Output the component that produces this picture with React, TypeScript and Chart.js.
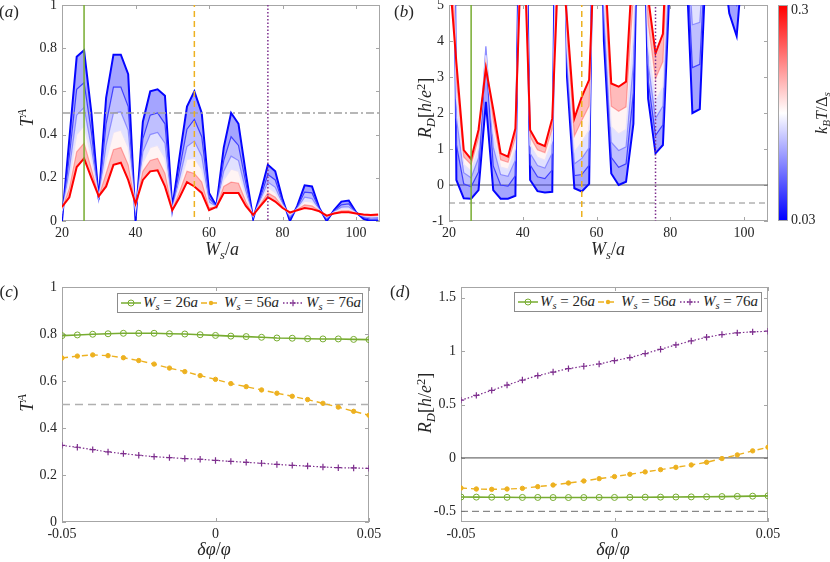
import { useEffect, useRef } from "react"
import { Chart, registerables } from "chart.js"

Chart.register(...registerables)

// ---------- panels (a) and (b): sweep over W_s/a, one row per k_B T / Delta_s ----------
const ws = [20, 22, 24, 26, 28, 30, 32, 34, 36, 38, 40, 42, 44, 46, 48, 50, 52, 54, 56, 58, 60, 62, 64, 66, 68, 70, 72, 74, 76, 78, 80, 82, 84, 86, 88, 90, 92, 94, 96, 98, 100, 102, 104, 106]
const temps = [0.03, 0.06, 0.1, 0.15, 0.21, 0.3]

// T^A
const tA_003 = [0, 0.38, 0.76, 0.79, 0.5, 0.1, 0.57, 0.77, 0.77, 0.68, 0, 0.46, 0.6, 0.61, 0.58, 0.06, 0.3, 0.53, 0.6, 0.5, 0.13, 0.07, 0.34, 0.5, 0.45, 0.22, 0.01, 0.13, 0.26, 0.23, 0.1, 0, 0.07, 0.165, 0.16, 0.06, 0, 0.05, 0.09, 0.095, 0.04, 0.01, 0, 0]
const tA_006 = [0.02, 0.3, 0.61, 0.64, 0.41, 0.105, 0.45, 0.62, 0.62, 0.53, 0.024, 0.38, 0.49, 0.5, 0.45, 0.057, 0.24, 0.425, 0.47, 0.39, 0.106, 0.069, 0.28, 0.39, 0.35, 0.175, 0.015, 0.11, 0.215, 0.19, 0.088, 0.012, 0.064, 0.134, 0.13, 0.056, 0.008, 0.046, 0.075, 0.079, 0.039, 0.016, 0.008, 0.009]
const tA_010 = [0.034, 0.24, 0.49, 0.525, 0.34, 0.108, 0.35, 0.5, 0.505, 0.42, 0.042, 0.32, 0.4, 0.41, 0.36, 0.055, 0.2, 0.345, 0.37, 0.3, 0.088, 0.067, 0.23, 0.3, 0.28, 0.14, 0.02, 0.1, 0.18, 0.156, 0.079, 0.021, 0.059, 0.11, 0.104, 0.052, 0.013, 0.042, 0.064, 0.066, 0.037, 0.021, 0.015, 0.016]
const tA_015 = [0.046, 0.19, 0.4, 0.44, 0.29, 0.11, 0.28, 0.41, 0.42, 0.34, 0.056, 0.27, 0.34, 0.35, 0.29, 0.053, 0.17, 0.285, 0.29, 0.24, 0.074, 0.067, 0.19, 0.24, 0.23, 0.115, 0.023, 0.088, 0.155, 0.132, 0.072, 0.028, 0.056, 0.092, 0.087, 0.05, 0.018, 0.04, 0.055, 0.057, 0.037, 0.024, 0.02, 0.021]
const tA_021 = [0.056, 0.15, 0.32, 0.36, 0.24, 0.113, 0.22, 0.33, 0.34, 0.26, 0.069, 0.23, 0.28, 0.29, 0.22, 0.051, 0.137, 0.23, 0.22, 0.18, 0.061, 0.066, 0.16, 0.18, 0.175, 0.09, 0.025, 0.078, 0.13, 0.11, 0.066, 0.034, 0.053, 0.075, 0.07, 0.047, 0.022, 0.037, 0.047, 0.048, 0.036, 0.027, 0.024, 0.026]
const tA_030 = [0.065, 0.11, 0.25, 0.29, 0.2, 0.115, 0.16, 0.26, 0.27, 0.19, 0.08, 0.19, 0.23, 0.235, 0.16, 0.05, 0.11, 0.18, 0.16, 0.13, 0.05, 0.065, 0.13, 0.13, 0.13, 0.07, 0.028, 0.07, 0.11, 0.09, 0.06, 0.04, 0.05, 0.06, 0.055, 0.045, 0.025, 0.035, 0.04, 0.04, 0.035, 0.03, 0.028, 0.03]

// R_D in h/e^2 (values above 5 run off the top of the plot)
const rD_003 = [30, 0.14, -0.37, -0.38, -0.14, 2.31, -0.14, -0.38, -0.38, -0.3, 15, 0.14, -0.17, -0.21, -0.19, 20, 3, -0.09, -0.18, 0.03, 15, 4, 0.32, 0, 0.09, 1.7, 12, 2.4, 0.88, 1.11, 6, 9, 7, 2, 2.11, 7, 9, 6.5, 4.77, 4.14, 6.6, 9, 9, 9]
const rD_006 = [20, 1.12, 0.03, -0.05, 0.36, 3.6, 0.53, 0, -0.03, 0.26, 12.8, 0.56, 0.23, 0.18, 0.42, 16, 3.29, 0.26, 0.29, 0.55, 13.7, 4.45, 0.77, 0.49, 0.59, 2.56, 11.5, 2.9, 1.38, 1.67, 6.5, 9, 7.4, 3.26, 3.35, 7.4, 9, 6.95, 5.53, 5.01, 7.03, 9, 9, 9]
const rD_010 = [17, 1.87, 0.34, 0.2, 0.75, 3.85, 1.05, 0.29, 0.24, 0.69, 11.2, 0.88, 0.54, 0.47, 0.89, 13, 3.56, 0.59, 0.74, 1.04, 12.5, 4.87, 1.19, 0.96, 1.06, 3.38, 11, 3.38, 1.85, 2.19, 7, 9, 7.7, 4.45, 4.52, 7.7, 9, 7.4, 6.25, 5.84, 7.44, 9, 9, 9]
const rD_015 = [13, 2.42, 0.57, 0.39, 1.03, 3.6, 1.43, 0.5, 0.44, 1.01, 10, 1.11, 0.77, 0.69, 1.24, 11, 3.83, 0.92, 1.19, 1.53, 11.4, 5.3, 1.62, 1.42, 1.54, 4.2, 10.4, 3.86, 2.33, 2.72, 7.5, 9, 8, 5.64, 5.69, 8, 9, 7.8, 6.97, 6.67, 7.85, 9, 9, 9]
const rD_021 = [9, 2.94, 0.78, 0.57, 1.3, 3.4, 1.79, 0.7, 0.63, 1.31, 8.8, 1.34, 0.98, 0.9, 1.56, 9, 4.2, 1.36, 1.79, 2.2, 9.8, 5.87, 2.19, 2.05, 2.17, 5.3, 9.8, 4.5, 2.96, 3.43, 8.2, 9, 8.5, 7.25, 7.28, 8.5, 9, 8.4, 7.94, 7.78, 8.4, 9, 9, 9]
const rD_030 = [6, 3.4, 0.97, 0.72, 1.53, 3.24, 2.1, 0.88, 0.79, 1.57, 7.8, 1.53, 1.17, 1.08, 1.85, 7, 4.6, 1.85, 2.45, 2.92, 8, 6.5, 2.82, 2.73, 2.87, 6.5, 9, 5.2, 3.66, 4.2, 9, 9, 9, 9, 9, 9, 9, 9, 9, 9, 9, 9, 9, 9]

// widths picked out in (a)/(b) and swept in (c)/(d)
const cuts = [26, 56, 76]

// ---------- panels (c) and (d): sweep over delta phi / phi ----------
const dPhi = [-0.05, -0.045, -0.04, -0.035, -0.03, -0.025, -0.02, -0.015, -0.01, -0.005, 0, 0.005, 0.01, 0.015, 0.02, 0.025, 0.03, 0.035, 0.04, 0.045, 0.05]
const tA_26 = [0.793, 0.796, 0.799, 0.801, 0.803, 0.803, 0.803, 0.801, 0.8, 0.797, 0.794, 0.791, 0.789, 0.786, 0.783, 0.782, 0.78, 0.779, 0.779, 0.777, 0.776]
const tA_56 = [0.698, 0.706, 0.711, 0.708, 0.699, 0.687, 0.672, 0.655, 0.64, 0.623, 0.607, 0.589, 0.576, 0.562, 0.548, 0.535, 0.521, 0.505, 0.489, 0.471, 0.454]
const tA_76 = [0.326, 0.318, 0.308, 0.298, 0.291, 0.284, 0.278, 0.274, 0.27, 0.267, 0.262, 0.258, 0.254, 0.25, 0.245, 0.241, 0.238, 0.234, 0.231, 0.23, 0.228]
const rD_26 = [-0.366, -0.367, -0.368, -0.369, -0.37, -0.37, -0.371, -0.371, -0.371, -0.37, -0.37, -0.369, -0.368, -0.367, -0.366, -0.365, -0.364, -0.362, -0.36, -0.358, -0.355]
const rD_56 = [-0.282, -0.291, -0.294, -0.291, -0.285, -0.269, -0.254, -0.235, -0.216, -0.194, -0.175, -0.153, -0.131, -0.11, -0.088, -0.066, -0.041, -0.006, 0.028, 0.066, 0.1]
const rD_76 = [0.541, 0.585, 0.632, 0.682, 0.729, 0.77, 0.804, 0.836, 0.858, 0.879, 0.911, 0.939, 0.977, 1.017, 1.058, 1.095, 1.13, 1.155, 1.171, 1.18, 1.186]

// ---------- ticks and reference levels ----------
const wsTicks = [20, 40, 60, 80, 100]
const tATicks = [0, 0.2, 0.4, 0.6, 0.8, 1]
const rDTicks = [-1, 0, 1, 2, 3, 4, 5]
const dPhiTicks = [-0.05, 0, 0.05]
const rDcTicks = [-0.5, 0, 0.5, 1, 1.5]
const tAHalf = 0.5
const rDLevels = [0, -0.5]

// ---------- styling ----------
const FONT = "'Liberation Serif', 'Times New Roman', 'DejaVu Serif', serif"
const INK = "#262626"
const FRAME = "#a6a6a6"
const cutColors = ["#77AC30", "#EDB120", "#7E2F8E"]
const cutDash = [[], [6, 4], [1.5, 2]]
const AXIS_W = 50
const AXIS_H = 40
const PAD_T = 20
const PAD_R = 24

type Box = { l: number; t: number; r: number; b: number }
const boxA: Box = { l: 62, t: 5, r: 380, b: 221 }
const boxB: Box = { l: 449, t: 5, r: 768, b: 221 }
const boxC: Box = { l: 62, t: 287, r: 369, b: 522 }
const boxD: Box = { l: 461, t: 287, r: 768, b: 522 }

function tempColor(T: number, alpha = 1) {
  const t = (T - temps[0]) / (temps[temps.length - 1] - temps[0])
  let r = 255, g = 255, b = 255
  if (t < 0.5) {
    r = g = Math.round(510 * t)
  } else {
    g = b = Math.round(510 * (1 - t))
  }
  return `rgba(${r},${g},${b},${alpha})`
}

const framePlugin = {
  id: "frame",
  beforeDatasetsDraw(chart: any) {
    const { ctx, chartArea: a } = chart
    const x = chart.scales.x
    const y = chart.scales.y
    ctx.save()
    ctx.strokeStyle = FRAME
    ctx.lineWidth = 1
    ctx.strokeRect(a.left + 0.5, a.top + 0.5, a.right - a.left - 1, a.bottom - a.top - 1)
    ctx.beginPath()
    for (const t of x.ticks) {
      const px = Math.round(x.getPixelForValue(t.value)) + 0.5
      ctx.moveTo(px, a.bottom)
      ctx.lineTo(px, a.bottom - 4)
      ctx.moveTo(px, a.top)
      ctx.lineTo(px, a.top + 4)
    }
    for (const t of y.ticks) {
      const py = Math.round(y.getPixelForValue(t.value)) + 0.5
      ctx.moveTo(a.left, py)
      ctx.lineTo(a.left + 4, py)
      ctx.moveTo(a.right, py)
      ctx.lineTo(a.right - 4, py)
    }
    ctx.stroke()
    ctx.restore()
  },
}

function axes(xr: number[], xt: number[], yr: number[], yt: number[]) {
  const tick = (padding: number) => ({
    color: INK,
    font: { family: FONT, size: 14 },
    padding,
    autoSkip: false,
    maxRotation: 0,
    callback: (v: number) => String(v),
  })
  return {
    x: {
      type: "linear",
      min: xr[0],
      max: xr[1],
      grid: { display: false, drawTicks: false },
      border: { display: false },
      ticks: tick(4),
      afterBuildTicks: (s: any) => { s.ticks = xt.map((value) => ({ value })) },
      afterFit: (s: any) => { s.height = AXIS_H },
    },
    y: {
      type: "linear",
      min: yr[0],
      max: yr[1],
      grid: { display: false, drawTicks: false },
      border: { display: false },
      ticks: tick(5),
      afterBuildTicks: (s: any) => { s.ticks = yt.map((value) => ({ value })) },
      afterFit: (s: any) => { s.width = AXIS_W },
    },
  }
}

function line(xs: number[], ys: number[], style: any) {
  return {
    data: xs.map((x, i) => ({ x, y: ys[i] })),
    pointRadius: 0,
    borderWidth: 1,
    fill: false,
    tension: 0,
    ...style,
  }
}

// fan of curves, blue (cold) under red (hot), bands between neighbours filled
function family(rows: number[][]) {
  return rows.map((vals, i) =>
    line(ws, vals, {
      borderColor: tempColor(temps[i]),
      borderWidth: i === 0 || i === rows.length - 1 ? 2 : 1.2,
      fill: i === 0 ? false : "-1",
      backgroundColor: i === 0 ? "transparent" : tempColor((temps[i - 1] + temps[i]) / 2, 0.4),
      order: 20 - i,
    })
  )
}

function cutLines(yr: number[]) {
  return cuts.map((c, i) =>
    line([c, c], [yr[0] - 1, yr[1] + 1], {
      borderColor: cutColors[i],
      borderWidth: 1.5,
      borderDash: cutDash[i],
      order: 0,
    })
  )
}

function options(xr: number[], xt: number[], yr: number[], yt: number[]) {
  return {
    responsive: false,
    animation: false,
    events: [],
    layout: { padding: { left: 0, top: PAD_T, right: PAD_R, bottom: 0 } },
    plugins: { legend: { display: false }, tooltip: { enabled: false } },
    scales: axes(xr, xt, yr, yt),
  }
}

const wsRange = [20, 106.5]

function makeA() {
  const yr = [0, 1]
  return {
    type: "line",
    data: {
      datasets: [
        ...family([tA_003, tA_006, tA_010, tA_015, tA_021, tA_030]),
        line(wsRange, [tAHalf, tAHalf], { borderColor: "#a0a0a0", borderWidth: 1.3, borderDash: [8, 3, 2, 3], order: 1 }),
        ...cutLines(yr),
      ],
    },
    options: options(wsRange, wsTicks, yr, tATicks),
    plugins: [framePlugin],
  }
}

function makeB() {
  const yr = [-1, 5]
  return {
    type: "line",
    data: {
      datasets: [
        ...family([rD_003, rD_006, rD_010, rD_015, rD_021, rD_030]),
        line(wsRange, [rDLevels[0], rDLevels[0]], { borderColor: "#606060", borderWidth: 1, order: 30 }),
        line(wsRange, [rDLevels[1], rDLevels[1]], { borderColor: "#8a8a8a", borderWidth: 1, borderDash: [6, 4], order: 30 }),
        ...cutLines(yr),
      ],
    },
    options: options(wsRange, wsTicks, yr, rDTicks),
    plugins: [framePlugin],
  }
}

function sweep(rows: number[][]) {
  return [
    line(dPhi, rows[0], {
      borderColor: cutColors[0], borderWidth: 1.6,
      pointRadius: 3, pointStyle: "circle", pointBorderColor: cutColors[0], pointBackgroundColor: "rgba(255,255,255,0)", pointBorderWidth: 1,
    }),
    line(dPhi, rows[1], {
      borderColor: cutColors[1], borderWidth: 1.4, borderDash: [6, 4],
      pointRadius: 2.2, pointStyle: "circle", pointBorderColor: cutColors[1], pointBackgroundColor: cutColors[1], pointBorderWidth: 1,
    }),
    line(dPhi, rows[2], {
      borderColor: cutColors[2], borderWidth: 1.2, borderDash: [1.5, 2],
      pointRadius: 3.2, pointStyle: "cross", pointBorderColor: cutColors[2], pointBorderWidth: 1.2,
    }),
  ]
}

const dPhiRange = [-0.05, 0.05]

function makeC() {
  return {
    type: "line",
    data: {
      datasets: [
        ...sweep([tA_26, tA_56, tA_76]),
        line(dPhiRange, [tAHalf, tAHalf], { borderColor: "#b0b0b0", borderWidth: 1.5, borderDash: [8, 5], order: 5 }),
      ],
    },
    options: options(dPhiRange, dPhiTicks, [0, 1], tATicks),
    plugins: [framePlugin],
  }
}

function makeD() {
  return {
    type: "line",
    data: {
      datasets: [
        ...sweep([rD_26, rD_56, rD_76]),
        line(dPhiRange, [rDLevels[0], rDLevels[0]], { borderColor: "#4d4d4d", borderWidth: 1, order: 5 }),
        line(dPhiRange, [rDLevels[1], rDLevels[1]], { borderColor: "#6e6e6e", borderWidth: 1, borderDash: [7, 4], order: 5 }),
      ],
    },
    options: options(dPhiRange, dPhiTicks, [-0.6, 1.6], rDcTicks),
    plugins: [framePlugin],
  }
}

function Panel({ box, make }: { box: Box; make: () => any }) {
  const ref = useRef<HTMLCanvasElement>(null)
  useEffect(() => {
    if (!ref.current) return
    const chart = new Chart(ref.current, make())
    return () => chart.destroy()
  }, [])
  const w = box.r - box.l + AXIS_W + PAD_R
  const h = box.b - box.t + PAD_T + AXIS_H
  return (
    <canvas
      ref={ref}
      width={w}
      height={h}
      style={{ position: "absolute", left: box.l - AXIS_W, top: box.t - PAD_T, width: w, height: h }}
    />
  )
}

const Sub = ({ children }: any) => <span style={{ fontSize: "0.7em", verticalAlign: "-0.3em" }}>{children}</span>
const Sup = ({ children }: any) => <span style={{ fontSize: "0.7em", verticalAlign: "0.5em" }}>{children}</span>

function Label({ x, y, rotate = false, size = 18, children }: any) {
  return (
    <div
      style={{
        position: "absolute", left: x, top: y,
        transform: `translate(-50%, -50%)${rotate ? " rotate(-90deg)" : ""}`,
        fontFamily: FONT, fontSize: size, color: INK, whiteSpace: "nowrap", lineHeight: 1,
      }}
    >
      {children}
    </div>
  )
}

const WsOverA = () => <><i>W</i><Sub><i>s</i></Sub>/<i>a</i></>
const TA = () => <><i>T</i><Sup><i>A</i></Sup></>
const RD = () => <><i>R</i><Sub><i>D</i></Sub>[<i>h</i>/<i>e</i><Sup>2</Sup>]</>
const DPhi = () => <><i>δφ</i>/<i>φ</i></>

const sampleX = [3, 83, 165]
const labelX = [25, 106, 188]

function Sample({ i }: { i: number }) {
  const c = cutColors[i]
  return (
    <svg width={20} height={10} style={{ display: "block" }}>
      <line x1={0} y1={5} x2={20} y2={5} stroke={c} strokeWidth={i === 0 ? 1.5 : 1.3} strokeDasharray={cutDash[i].join(" ")} />
      {i === 0 && <circle cx={10} cy={5} r={3} fill="none" stroke={c} strokeWidth={1} />}
      {i === 1 && <circle cx={10} cy={5} r={2.2} fill={c} />}
      {i === 2 && <path d="M6.8 5 H13.2 M10 1.8 V8.2" stroke={c} strokeWidth={1.2} />}
    </svg>
  )
}

function LegendBox({ left, top, width }: { left: number; top: number; width: number }) {
  return (
    <div
      style={{
        position: "absolute", left, top, width, height: 20, boxSizing: "border-box",
        border: "1px solid #8c8c8c", background: "#fff",
      }}
    >
      {cuts.map((c, i) => (
        <div key={c}>
          <div style={{ position: "absolute", left: sampleX[i], top: 4 }}>
            <Sample i={i} />
          </div>
          <div
            style={{
              position: "absolute", left: labelX[i], top: 1, fontFamily: FONT, fontSize: 15,
              color: INK, whiteSpace: "nowrap", lineHeight: 1,
            }}
          >
            <i>W</i><Sub><i>s</i></Sub> = {c}<i>a</i>
          </div>
        </div>
      ))}
    </div>
  )
}

export default function App() {
  return (
    <div style={{ position: "absolute", left: 0, top: 0, width: 830, height: 562, overflow: "hidden", background: "#fff" }}>
      <Panel box={boxA} make={makeA} />
      <Panel box={boxB} make={makeB} />
      <Panel box={boxC} make={makeC} />
      <Panel box={boxD} make={makeD} />

      {/* colorbar for k_B T / Delta_s */}
      <div
        style={{
          position: "absolute", left: 778, top: 5, width: 10, height: 216, boxSizing: "border-box",
          border: `1px solid ${FRAME}`,
          background: `linear-gradient(to top, ${tempColor(temps[0])}, rgb(255,255,255), ${tempColor(temps[temps.length - 1])})`,
        }}
      />
      <div style={{ position: "absolute", left: 791, top: 3, fontFamily: FONT, fontSize: 14, color: INK, lineHeight: 1 }}>
        {temps[temps.length - 1]}
      </div>
      <div style={{ position: "absolute", left: 791, top: 213, fontFamily: FONT, fontSize: 14, color: INK, lineHeight: 1 }}>
        {temps[0]}
      </div>
      <Label x={823} y={113} rotate size={16}>
        <i>k</i><Sub><i>B</i></Sub><i>T</i>/Δ<Sub><i>s</i></Sub>
      </Label>

      {/* axis titles */}
      <Label x={222} y={251}><WsOverA /></Label>
      <Label x={608} y={251}><WsOverA /></Label>
      <Label x={214} y={549}><DPhi /></Label>
      <Label x={613} y={549}><DPhi /></Label>
      <Label x={26} y={118} rotate><TA /></Label>
      <Label x={26} y={403} rotate><TA /></Label>
      <Label x={426} y={108} rotate><RD /></Label>
      <Label x={426} y={403} rotate><RD /></Label>

      {/* panel letters */}
      <Label x={9} y={11} size={17}>(<i>a</i>)</Label>
      <Label x={404} y={11} size={17}>(<i>b</i>)</Label>
      <Label x={9} y={291} size={17}>(<i>c</i>)</Label>
      <Label x={400} y={291} size={17}>(<i>d</i>)</Label>

      <LegendBox left={117} top={293} width={246} />
      <LegendBox left={514} top={292} width={248} />
    </div>
  )
}
